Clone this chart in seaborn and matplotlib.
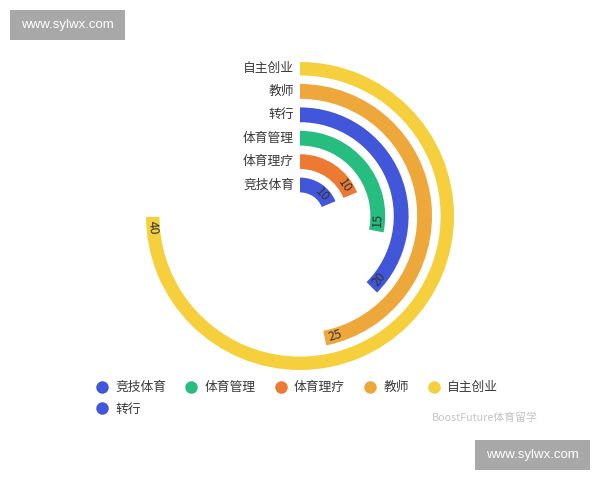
import numpy as np
import matplotlib
matplotlib.use("Agg")
import matplotlib.pyplot as plt
import matplotlib.transforms as mtransforms
from matplotlib.lines import Line2D
from matplotlib.patches import Rectangle
import seaborn as sns

# ---- data (inner -> outer) ----
categories = ["竞技体育", "体育理疗", "体育管理", "转行", "教师", "自主创业"]
values = [10, 10, 15, 20, 25, 40]
colors = ["#4256d9", "#ec7a33", "#27bd80", "#4256d9", "#eea73b", "#f5d03c"]
legend_order = ["竞技体育", "体育管理", "体育理疗", "教师", "自主创业", "转行"]
angle_max = 53.4

sns.set_theme(style="white")
plt.rcParams["font.family"] = ["Noto Sans CJK SC", "DejaVu Sans"]

W, H = 600, 480
fig = plt.figure(figsize=(6, 4.8), dpi=100)
fig.patch.set_facecolor("white")

# polar axes: center (300, 216) px from top, outer radius 154 px
R = 154.0
cx, cy = 300.0, 216.0
ax = fig.add_axes([(cx - R) / W, (H - cy - R) / H, 2 * R / W, 2 * R / H],
                  projection="polar")
ax.set_theta_zero_location("N")
ax.set_theta_direction(-1)
ax.set_rlim(0, R)
ax.set_axis_off()

r_first, r_step, bar_h = 31.0, 23.4, 14.8
radii = [r_first + i * r_step for i in range(len(categories))]
thetas = [v / angle_max * 2 * np.pi for v in values]

ax.barh(radii, thetas, left=0, height=bar_h, color=colors, edgecolor="none")

# value labels along the arc, near the end
for r, th, v in zip(radii, thetas, values):
    tl = th - 11.0 / r
    deg = np.degrees(tl)
    rot = 180 - deg
    while rot > 90:
        rot -= 180
    while rot <= -90:
        rot += 180
    ax.text(tl, r, str(v), rotation=rot, rotation_mode="anchor",
            ha="center", va="center", fontsize=9, color="#333333")

# category labels at the start of each bar
off = mtransforms.offset_copy(ax.transData, fig=fig, x=-6, y=0, units="dots")
for r, c in zip(radii, categories):
    ax.text(0, r, c, transform=off, ha="right", va="center",
            fontsize=9.2, color="#3a3a3a")

# legend (matplotlib fills column-wise: put the 6th item under the 1st)
cmap = dict(zip(categories, colors))
ordered = [legend_order[0], legend_order[5]] + legend_order[1:5]
handles = [Line2D([0], [0], marker="o", linestyle="none", markersize=9,
                  markerfacecolor=cmap[c], markeredgecolor="none", label=c)
           for c in ordered]
fig.legend(handles=handles, loc="upper left",
           bbox_to_anchor=(95.5 / W, 1 - 381 / H), ncol=5, frameon=False,
           fontsize=9.2, handlelength=1.0, handletextpad=0.55,
           columnspacing=1.45, labelspacing=0.7, borderpad=0,
           borderaxespad=0, labelcolor="#3a3a3a")

# watermark texts
fig.text(432 / W, 1 - 418 / H, "BoostFuture体育留学", fontsize=7.8,
         color="#c4c4c4", ha="left", va="center")
for (x0, y0) in [(10, 10), (475, 440)]:
    fig.patches.append(Rectangle((x0 / W, 1 - (y0 + 30) / H), 115 / W, 30 / H,
                                 transform=fig.transFigure, facecolor="#a8a8a8",
                                 edgecolor="none"))
    fig.text((x0 + 57.5) / W, 1 - (y0 + 15) / H, "www.sylwx.com",
             fontsize=9.5, color="white", ha="center", va="center",
             family="Liberation Sans")

fig.savefig("out.png", dpi=100, facecolor="white")
